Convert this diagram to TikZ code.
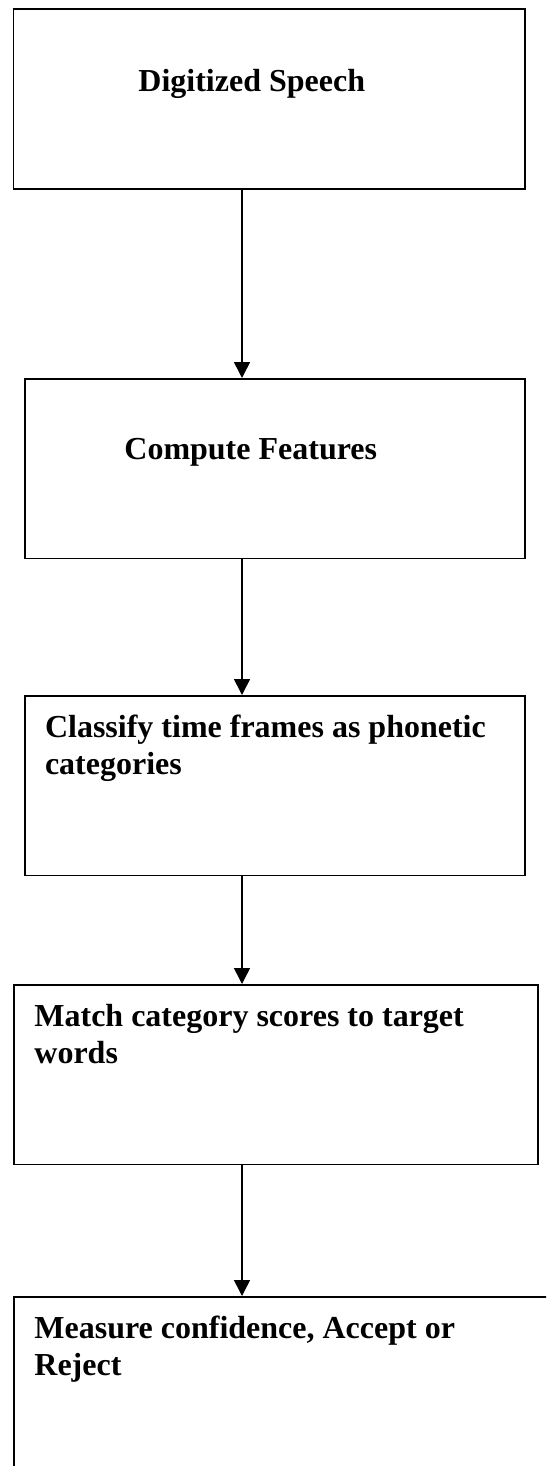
\documentclass[tikz,border=0pt]{standalone}
\usepackage{fontspec}
\setmainfont{Liberation Serif}
\usetikzlibrary{positioning,arrows.meta}

\begin{document}
\begin{tikzpicture}[x=0.5pt,y=-0.5pt,font=\bfseries\fontsize{16}{18.5}\selectfont,
 blk/.style={draw,line width=0.8pt,anchor=north west,inner sep=0pt,minimum height=89.75pt},
 lbl/.style={anchor=base west,inner sep=0pt},
 arr/.style={-{Triangle[length=8pt,width=8pt]},line width=0.8pt}]
 \clip (0,0) rectangle (546,1466);
 \coordinate (axis) at (242,0);
 % boxes
 \node[blk,minimum width=255.75pt](speech) at (12.5,8.5){};
 \node[blk,minimum width=250pt](feat) at (24,378){};
 \node[blk,minimum width=250pt](classify) at (24,695){};
 \node[blk,minimum width=262pt](match) at (13,984){};
 \node[blk,minimum width=273.5pt](conf) at (13,1296){};
 % texts
 \node[lbl] at ([xshift=62.75pt,yshift=-41.75pt]speech.north west){Digitized Speech};
 \node[lbl] at ([xshift=50pt,yshift=-40.5pt]feat.north west){Compute Features};
 \node[lbl] at ([xshift=10.3pt,yshift=-21pt]classify.north west)
   {\parbox[t]{240pt}{Classify time frames as phonetic\\categories}};
 \node[lbl] at ([xshift=10.5pt,yshift=-21pt]match.north west)
   {\parbox[t]{240pt}{Match category scores to target\\words}};
 \node[lbl] at ([xshift=10.5pt,yshift=-21pt]conf.north west)
   {\parbox[t]{240pt}{Measure confidence, Accept or\\Reject}};
 % arrows
 \draw[arr](speech.south -| axis)--(feat.north -| axis);
 \draw[arr](feat.south -| axis)--(classify.north -| axis);
 \draw[arr](classify.south -| axis)--(match.north -| axis);
 \draw[arr](match.south -| axis)--(conf.north -| axis);
\end{tikzpicture}
\end{document}
